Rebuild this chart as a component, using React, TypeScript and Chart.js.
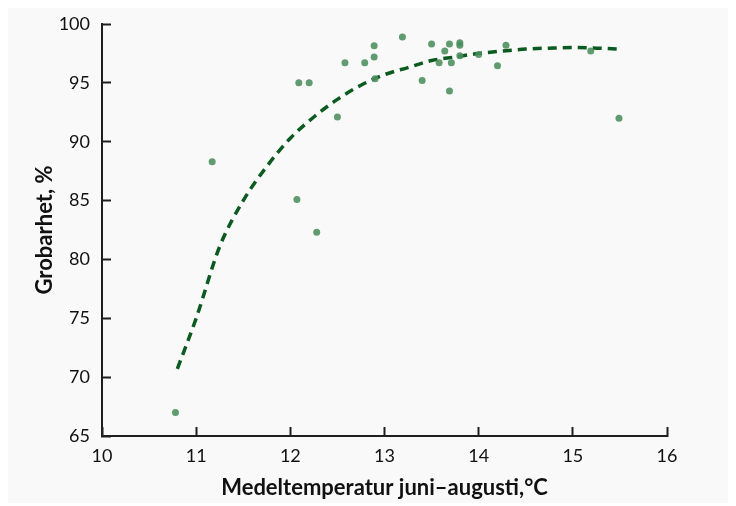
import React, { useEffect, useRef } from "react";
import { Chart, registerables } from "chart.js";

Chart.register(...registerables);

const pointX = [10.78, 11.17, 12.09, 12.2, 12.07, 12.28, 12.5, 12.58, 12.79, 12.89, 12.89, 12.9, 13.19, 13.4, 13.5, 13.64, 13.69, 13.8, 13.8, 13.58, 13.71, 13.69, 13.8, 14.0, 14.2, 14.29, 15.19, 15.49];
const pointY = [67.0, 88.3, 95.0, 95.0, 85.1, 82.3, 92.1, 96.7, 96.7, 98.15, 97.2, 95.35, 98.9, 95.2, 98.3, 97.7, 98.3, 98.4, 98.2, 96.7, 96.7, 94.3, 97.3, 97.4, 96.45, 98.2, 97.7, 92.0];

const curveX = [10.8, 11.0, 11.25, 11.5, 11.75, 12.0, 12.25, 12.5, 12.75, 13.0, 13.25, 13.5, 13.75, 14.0, 14.25, 14.5, 14.75, 15.0, 15.25, 15.5];
const curveY = [70.7, 75.0, 81.1, 85.0, 87.9, 90.3, 92.1, 93.6, 94.8, 95.7, 96.3, 96.9, 97.2, 97.5, 97.7, 97.87, 97.95, 98.0, 97.95, 97.86];

const xTicks = [10, 11, 12, 13, 14, 15, 16];
const yTicks = [65, 70, 75, 80, 85, 90, 95, 100];

const xTitle = "Medeltemperatur juni–augusti,°C";
const yTitle = "Grobarhet, %";

const FONT = "Lato, 'Open Sans', sans-serif";
const AXIS_COLOR = "#1e1e1e";
const TICK_LEN = 9;

export default function App() {
  const ref = useRef<HTMLCanvasElement | null>(null);
  useEffect(() => {
    if (!ref.current) return;
    const grid = {
      display: true,
      drawOnChartArea: false,
      drawTicks: true,
      tickLength: -TICK_LEN,
      tickWidth: 2,
      tickColor: AXIS_COLOR,
    };
    const chart = new Chart(ref.current, {
      type: "scatter",
      data: {
        datasets: [
          {
            type: "scatter",
            data: pointX.map((x, i) => ({ x, y: pointY[i] })),
            backgroundColor: "rgba(74,142,92,0.88)",
            borderWidth: 0,
            pointRadius: 3.5,
            order: 1,
          },
          {
            type: "line",
            data: curveX.map((x, i) => ({ x, y: curveY[i] })),
            borderColor: "#0b5a1f",
            borderWidth: 3.5,
            borderDash: [9, 6],
            pointRadius: 0,
            fill: false,
            cubicInterpolationMode: "monotone",
            order: 2,
          } as any,
        ],
      },
      options: {
        animation: false,
        responsive: false,
        events: [],
        layout: { padding: { left: 0, top: 16, right: 69, bottom: 0 } },
        plugins: { legend: { display: false }, tooltip: { enabled: false } },
        scales: {
          x: {
            type: "linear",
            min: 10,
            max: 16,
            afterBuildTicks: (s: any) => {
              s.ticks = xTicks.map((v) => ({ value: v }));
            },
            afterFit: (s: any) => {
              s.height = 67;
              s.paddingLeft = 0;
              s.paddingRight = 0;
            },
            grid: grid as any,
            border: { display: true, color: AXIS_COLOR, width: 2 },
            ticks: {
              color: "#111",
              padding: 9 + TICK_LEN,
              font: { family: FONT, size: 18 },
              callback: (v: any) => String(v),
            },
            title: {
              display: true,
              text: xTitle,
              color: "#111",
              font: { family: FONT, size: 22, weight: "bold" },
              padding: { top: 0, bottom: 2 },
            },
          },
          y: {
            type: "linear",
            min: 65,
            max: 100,
            afterBuildTicks: (s: any) => {
              s.ticks = yTicks.map((v) => ({ value: v }));
            },
            afterFit: (s: any) => {
              s.width = 94;
              s.paddingTop = 0;
              s.paddingBottom = 0;
            },
            grid: grid as any,
            border: { display: true, color: AXIS_COLOR, width: 2 },
            ticks: {
              color: "#111",
              padding: 12 + TICK_LEN,
              font: { family: FONT, size: 18 },
              callback: (v: any) => String(v),
            },
            title: {
              display: true,
              text: yTitle,
              color: "#111",
              font: { family: FONT, size: 22, weight: "bold" },
              padding: { top: 24, bottom: 0 },
            },
          },
        },
      },
    });
    return () => chart.destroy();
  }, []);
  return (
    <div style={{ width: 728, height: 495, background: "#f9f9f9" }}>
      <canvas ref={ref} width={728} height={495} style={{ display: "block" }} />
    </div>
  );
}
